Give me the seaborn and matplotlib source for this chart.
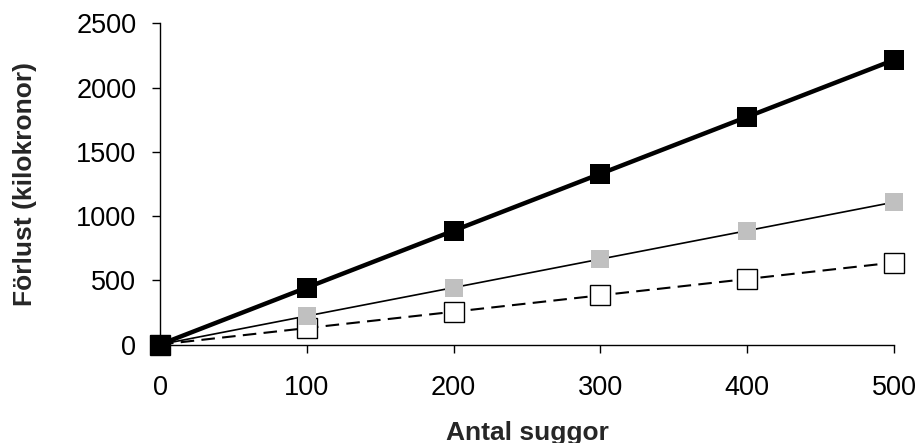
import matplotlib
matplotlib.use("Agg")
import matplotlib.pyplot as plt
import pandas as pd
import seaborn as sns

# data
suggor = [0, 100, 200, 300, 400, 500]
serie_svart = [0, 443, 886, 1329, 1772, 2215]
serie_gra = [0, 222, 443, 665, 886, 1108]
serie_vit = [0, 128, 255, 383, 510, 638]
y_ticks = [0, 500, 1000, 1500, 2000, 2500]

sns.set_style("white")
plt.rcParams['font.family'] = ['Liberation Sans', 'DejaVu Sans']

fig = plt.figure(figsize=(9.18, 4.43), dpi=100)
ax = fig.add_axes([0.1743, 0.2223, 0.7996, 0.7251])

df = pd.DataFrame({'x': suggor, 'svart': serie_svart, 'gra': serie_gra, 'vit': serie_vit})

# white squares, dashed line
sns.lineplot(data=df, x='x', y='vit', ax=ax, color='black', linewidth=1.5,
             linestyle=(0, (6.5, 3.5)), marker='s', markersize=15,
             markerfacecolor='white', markeredgecolor='black', markeredgewidth=1.0,
             clip_on=False, zorder=3)
# gray squares, thin line
sns.lineplot(data=df, x='x', y='gra', ax=ax, color='black', linewidth=1.2,
             marker='s', markersize=13.5, markerfacecolor='#c0c0c0',
             markeredgecolor='#c0c0c0', markeredgewidth=0,
             clip_on=False, zorder=4)
# black squares, thick line
sns.lineplot(data=df, x='x', y='svart', ax=ax, color='black', linewidth=3.2,
             marker='s', markersize=14, markerfacecolor='black',
             markeredgecolor='black', markeredgewidth=0,
             clip_on=False, zorder=5)

ax.set_xlim(0, 500)
ax.set_ylim(0, 2500)
ax.set_xticks(suggor)
ax.set_yticks(y_ticks)
ax.tick_params(axis='both', direction='out', length=6, width=1, colors='black',
               labelsize=19.5, bottom=True, left=True)
ax.tick_params(axis='x', pad=16)
ax.tick_params(axis='y', pad=11)
sns.despine(ax=ax)
for s in ['left', 'bottom']:
    ax.spines[s].set_color('black')
    ax.spines[s].set_linewidth(1)

ax.set_xlabel('Antal suggor', fontsize=19, fontweight='bold', labelpad=14)
ax.set_ylabel('Förlust (kilokronor)', fontsize=19, fontweight='bold', labelpad=28)

fig.savefig('out.png', dpi=100)
